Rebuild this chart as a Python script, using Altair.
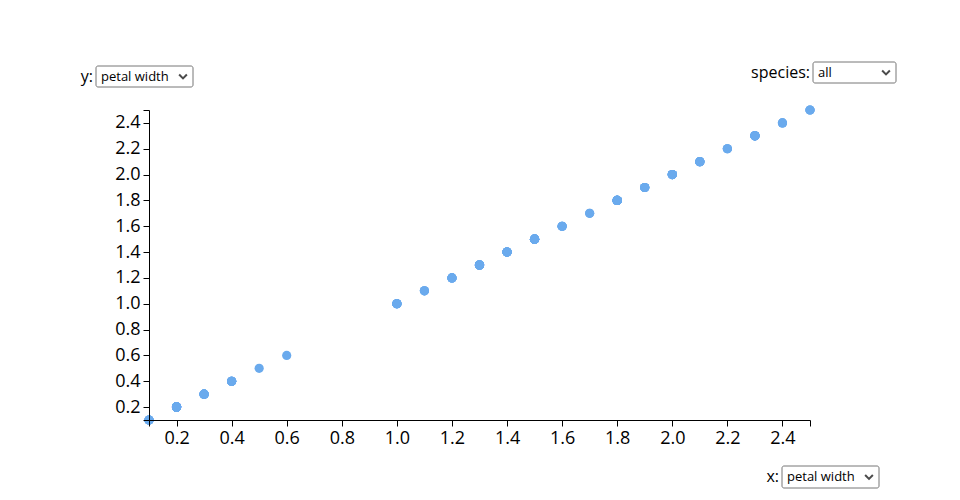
import altair as alt
import pandas as pd

# Iris petal width values (unique value and number of flowers with it)
petal_width_values = [0.1, 0.2, 0.3, 0.4, 0.5, 0.6, 1.0, 1.1, 1.2, 1.3, 1.4,
                      1.5, 1.6, 1.7, 1.8, 1.9, 2.0, 2.1, 2.2, 2.3, 2.4, 2.5]
petal_width_counts = [5, 29, 7, 7, 1, 1, 7, 3, 5, 13, 8,
                      12, 4, 2, 12, 5, 6, 6, 3, 8, 3, 3]
tick_values = [0.1, 0.2, 0.4, 0.6, 0.8, 1.0, 1.2, 1.4, 1.6, 1.8, 2.0, 2.2, 2.4, 2.5]

rows = []
for v, c in zip(petal_width_values, petal_width_counts):
    for _ in range(c):
        rows.append({"petal_width_x": v, "petal_width_y": v})
df = pd.DataFrame(rows)

FONT = "Open Sans"
label_expr = "datum.value < 0.15 || datum.value > 2.45 ? '' : format(datum.value, '.1f')"

axis_common = dict(
    grid=False, values=tick_values, labelExpr=label_expr, domainColor="black",
    tickColor="black", labelColor="black", labelFontSize=18, labelFont=FONT,
    tickSize=6, domainWidth=1, tickWidth=1, labelPadding=3, zindex=1,
    title=None, labelFlush=False, labelOverlap=False,
)

points = alt.Chart(df).mark_circle(size=85, opacity=1, color="#6aaaed").encode(
    x=alt.X("petal_width_x:Q", scale=alt.Scale(domain=[0.1, 2.5], nice=False, zero=False),
            axis=alt.Axis(**axis_common)),
    y=alt.Y("petal_width_y:Q", scale=alt.Scale(domain=[0.1, 2.5], nice=False, zero=False),
            axis=alt.Axis(**axis_common)),
)

one = pd.DataFrame({"k": [0]})

def widget(label, option, x0, x1, y0, y1):
    mid = (y0 + y1) / 2
    box = alt.Chart(one).mark_rect(fill="white", stroke="#767676", strokeWidth=1,
                                   cornerRadius=2).encode(
        x=alt.value(x0), x2=alt.value(x1), y=alt.value(y0), y2=alt.value(y1))
    lab = alt.Chart(one).mark_text(text=label, align="right", baseline="middle",
                                   font=FONT, fontSize=16, color="black").encode(
        x=alt.value(x0 - 3), y=alt.value(mid))
    opt = alt.Chart(one).mark_text(text=option, align="left", baseline="middle",
                                   font=FONT, fontSize=13, color="black").encode(
        x=alt.value(x0 + 5), y=alt.value(mid))
    chev = alt.Chart(one).mark_point(shape="M-1,-0.5L0,0.5L1,-0.5", filled=False,
                                     stroke="black", strokeWidth=2, size=60).encode(
        x=alt.value(x1 - 10), y=alt.value(mid))
    return [box, lab, opt, chev]

layers = [points]
layers += widget("y:", "petal width", -53, 44, -44, -23)
layers += widget("species:", "all", 664, 747, -48, -27)
layers += widget("x:", "petal width", 633, 730, 356, 378)

chart = alt.layer(*layers).properties(
    width=661, height=310,
    autosize=alt.AutoSizeParams(type="none"),
    padding={"left": 141, "top": 102, "right": 140, "bottom": 70},
).configure(font=FONT).configure_view(stroke="transparent", strokeWidth=0)

chart.save("out.html", embed_options={"renderer": "svg", "actions": False})
